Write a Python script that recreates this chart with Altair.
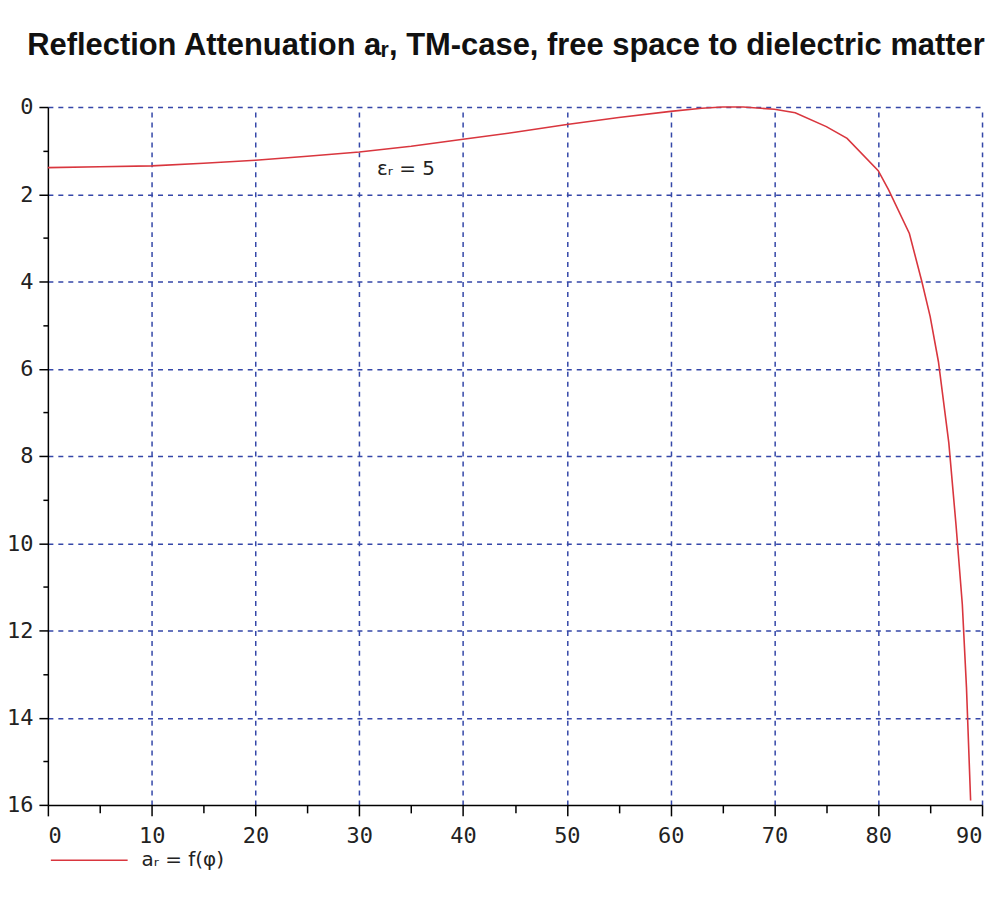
import altair as alt
import pandas as pd

# Incidence angle phi (deg) and reflection attenuation a_r (dB)
phi = [0, 5, 10, 15, 20, 25, 30, 35, 40, 45, 50, 55, 60, 63, 65, 67, 70, 72, 75, 77,
       80, 81, 83, 84.2, 85, 85.8, 86.8, 87.5, 88.1, 88.5, 88.9]
a_r = [1.39, 1.37, 1.35, 1.29, 1.22, 1.13, 1.03, 0.90, 0.74, 0.58, 0.40, 0.24, 0.10, 0.03,
       0.0, 0.0, 0.05, 0.13, 0.45, 0.72, 1.46, 1.9, 2.9, 4.0, 4.8, 5.84, 7.7, 9.6, 11.4, 13.3, 15.9]
series_name = "aᵣ = f(φ)"

x_ticks = list(range(0, 91, 5))
y_ticks = list(range(0, 17, 1))

ann_x = [31.7]
ann_y = [1.42]
ann_text = ["εᵣ = 5"]

title_text = "Reflection Attenuation aᵣ, TM-case, free space to dielectric matter"

df = pd.DataFrame({"phi": phi, "a_r": a_r, "series": [series_name] * len(phi)})
ann = pd.DataFrame({"x": ann_x, "y": ann_y, "t": ann_text})

GRID = "#3447a8"
RED = "#d9363e"
LABEL_FONT = "DejaVu Sans Mono"

xscale = alt.Scale(domain=[0, 90], nice=False, zero=False)
yscale = alt.Scale(domain=[0, 16], reverse=True, nice=False, zero=False)

x_axis = alt.Axis(
    values=x_ticks,
    title=None,
    labelExpr="datum.value % 10 == 0 ? datum.label : ''",
    tickSize=alt.condition("datum.value % 10 == 0", alt.value(11), alt.value(8)),
    gridOpacity=alt.condition("datum.value % 10 == 0 && datum.value > 0", alt.value(1), alt.value(0)),
    labelPadding=10,
)
y_axis = alt.Axis(
    values=y_ticks,
    title=None,
    labelExpr="datum.value % 2 == 0 ? datum.label : ''",
    tickSize=alt.condition("datum.value % 2 == 0", alt.value(9), alt.value(5)),
    gridOpacity=alt.condition("datum.value % 2 == 0 && datum.value < 16", alt.value(1), alt.value(0)),
    labelPadding=6,
)

line = alt.Chart(df).mark_line(strokeWidth=1.6).encode(
    x=alt.X("phi:Q", scale=xscale, axis=x_axis),
    y=alt.Y("a_r:Q", scale=yscale, axis=y_axis),
    color=alt.Color(
        "series:N",
        scale=alt.Scale(range=[RED]),
        legend=alt.Legend(
            title=None,
            orient="none",
            legendX=2,
            legendY=716,
            symbolType="stroke",
            symbolSize=5929,
            symbolStrokeWidth=1.6,
            labelFont="DejaVu Sans",
            labelFontSize=20,
            labelColor="#222222",
            labelOffset=13,
            padding=0,
        ),
    ),
)

label = alt.Chart(ann).mark_text(
    align="left", baseline="middle", font="DejaVu Sans", fontSize=20, color="#222222"
).encode(
    x=alt.X("x:Q", scale=xscale),
    y=alt.Y("y:Q", scale=yscale),
    text="t:N",
)

chart = alt.layer(line, label).properties(
    width=937,
    height=700,
    autosize=alt.AutoSizeParams(type="none"),
    padding={"left": 40, "top": 98, "right": 10, "bottom": 68},
    title=alt.TitleParams(
        title_text,
        font="Liberation Sans",
        fontSize=31,
        fontWeight="bold",
        color="#111111",
        anchor="middle",
        frame="group",
        baseline="alphabetic",
        offset=10,
        dx=-9,
    ),
).configure_view(stroke=None).configure_axis(
    domainColor="#000000",
    domainWidth=1.5,
    tickColor="#000000",
    tickWidth=1.5,
    gridColor=GRID,
    gridDash=[5, 5],
    gridWidth=1.5,
    grid=True,
    labelFont=LABEL_FONT,
    labelFontSize=22,
    labelColor="#222222",
)

chart.save("out.html", embed_options={"renderer": "svg", "actions": False})
